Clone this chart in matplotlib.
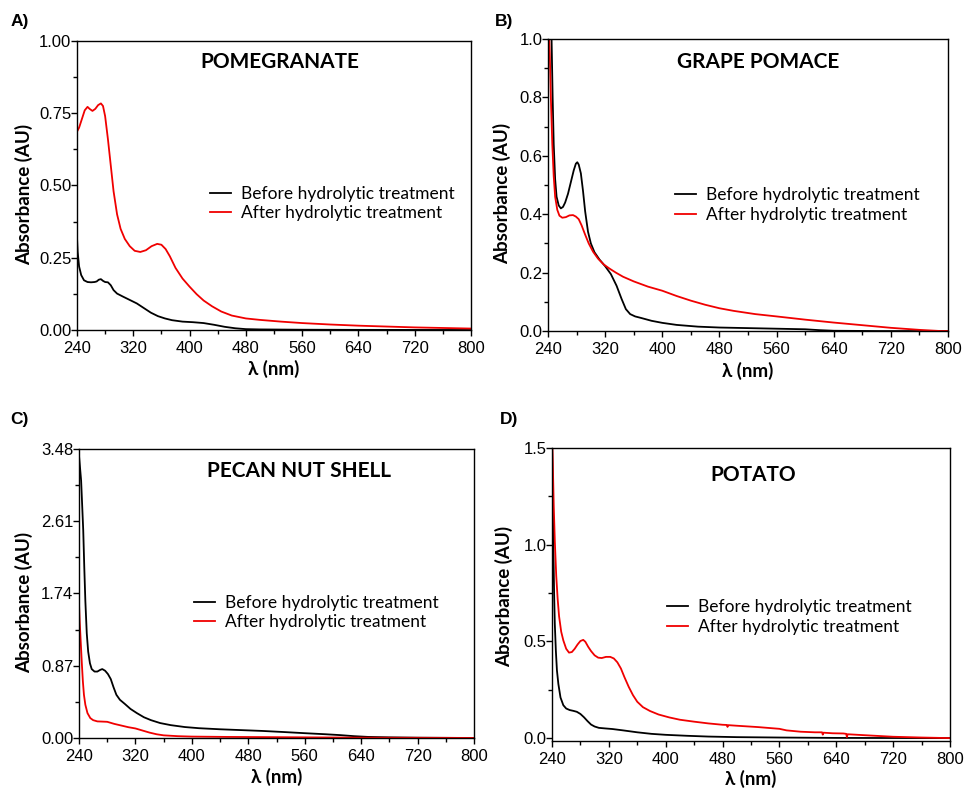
import matplotlib.pyplot as plt
import numpy as np
from matplotlib.ticker import MultipleLocator, FixedLocator, FormatStrFormatter

plt.rcParams['font.family'] = ['Liberation Sans', 'DejaVu Sans']

#####DATA#####
# A) pomegranate
wl_pom_before = [240, 241, 243, 246, 250, 255, 260, 265, 268, 271, 274, 277, 280, 284, 288, 292, 297,
                 305, 315, 325, 335, 345, 355, 365, 375, 390, 405, 420, 435, 450, 465, 480, 500, 560, 640, 800]
abs_pom_before = [0.323, 0.27, 0.22, 0.19, 0.172, 0.166, 0.165, 0.166, 0.168, 0.174, 0.176, 0.170, 0.166, 0.165,
                  0.155, 0.138, 0.126, 0.116, 0.104, 0.092, 0.076, 0.060, 0.048, 0.040, 0.034, 0.029, 0.027,
                  0.024, 0.018, 0.011, 0.006, 0.003, 0.002, 0.001, 0.0005, 0.0]
wl_pom_after = [240, 243, 247, 251, 255, 258, 262, 266, 270, 274, 277, 280, 284, 288, 292, 297, 302, 308, 315,
                322, 330, 338, 346, 354, 360, 366, 372, 380, 390, 400, 410, 420, 432, 445, 460, 480, 500, 530,
                560, 600, 640, 680, 720, 760, 800]
abs_pom_after = [0.686, 0.70, 0.73, 0.76, 0.772, 0.765, 0.758, 0.765, 0.778, 0.784, 0.775, 0.74, 0.66, 0.57,
                 0.48, 0.40, 0.35, 0.315, 0.29, 0.274, 0.270, 0.276, 0.290, 0.298, 0.295, 0.280, 0.255, 0.215,
                 0.178, 0.150, 0.124, 0.102, 0.082, 0.064, 0.050, 0.040, 0.035, 0.029, 0.024, 0.019, 0.015,
                 0.012, 0.009, 0.007, 0.005]

# B) grape pomace
wl_gra_before = [240, 243, 245, 246.5, 248, 250, 252, 255, 258, 261, 264, 268, 272, 276, 279, 281, 283, 286,
                 289, 292, 296, 300, 305, 312, 320, 328, 336, 343, 349, 355, 362, 370, 385, 400, 420, 450, 480,
                 520, 560, 600, 620, 640, 700, 800]
abs_gra_before = [1.30, 1.15, 1.00, 0.80, 0.64, 0.52, 0.46, 0.43, 0.42, 0.425, 0.44, 0.47, 0.51, 0.55, 0.573,
                  0.578, 0.57, 0.54, 0.48, 0.41, 0.34, 0.30, 0.27, 0.245, 0.222, 0.195, 0.155, 0.11, 0.075,
                  0.058, 0.050, 0.045, 0.035, 0.028, 0.021, 0.015, 0.012, 0.010, 0.008, 0.006, 0.003, 0.001,
                  0.0, 0.0]
wl_gra_after = [240, 241, 242.5, 244, 246, 248, 250, 253, 256, 260, 265, 270, 275, 279, 283, 287, 292, 297, 303,
                310, 318, 326, 335, 345, 360, 380, 400, 420, 440, 460, 480, 500, 530, 560, 600, 640, 680, 720,
                760, 790, 800]
abs_gra_after = [0.94, 1.05, 0.95, 0.80, 0.64, 0.53, 0.46, 0.415, 0.395, 0.388, 0.39, 0.396, 0.397, 0.392,
                 0.383, 0.362, 0.33, 0.30, 0.272, 0.248, 0.228, 0.214, 0.200, 0.186, 0.170, 0.152, 0.138,
                 0.120, 0.104, 0.090, 0.078, 0.069, 0.058, 0.050, 0.039, 0.029, 0.020, 0.011, 0.004, 0.0, 0.0]

# C) pecan nut shell
wl_pec_before = [240, 241, 243, 244.5, 246, 247.5, 249, 251, 253, 255.5, 258, 262, 266, 270, 273, 277, 281,
                 285, 289, 293, 298, 305, 313, 322, 332, 342, 355, 370, 390, 410, 440, 470, 500, 530, 560, 590,
                 610, 630, 650, 680, 720, 760, 800]
abs_pec_before = [3.40, 3.30, 3.10, 2.80, 2.50, 2.05, 1.65, 1.26, 1.04, 0.90, 0.83, 0.80, 0.80, 0.82, 0.83,
                  0.81, 0.77, 0.71, 0.61, 0.52, 0.46, 0.41, 0.35, 0.30, 0.25, 0.215, 0.18, 0.155, 0.132, 0.118,
                  0.105, 0.095, 0.085, 0.072, 0.058, 0.045, 0.035, 0.022, 0.013, 0.008, 0.004, 0.002, 0.0]
wl_pec_after = [240, 241, 242.5, 244, 245.5, 247, 249, 252, 256, 260, 266, 272, 280, 290, 300, 310, 320, 330,
                340, 350, 360, 380, 400, 450, 500, 560, 620, 680, 740, 800]
abs_pec_after = [1.62, 1.40, 1.15, 0.90, 0.68, 0.52, 0.40, 0.30, 0.24, 0.215, 0.20, 0.198, 0.195, 0.17, 0.15,
                 0.13, 0.115, 0.09, 0.065, 0.045, 0.032, 0.022, 0.017, 0.013, 0.011, 0.008, 0.005, 0.003,
                 0.002, 0.001]

# D) potato
wl_pot_before = [240, 241, 242, 243, 244, 245.5, 247, 249, 252, 256, 260, 265, 270, 275, 280, 285, 290, 295,
                 300, 306, 315, 325, 340, 360, 380, 400, 430, 460, 500, 560, 640, 800]
abs_pot_before = [1.60, 1.25, 0.98, 0.75, 0.59, 0.45, 0.35, 0.28, 0.21, 0.17, 0.153, 0.145, 0.141, 0.136,
                  0.125, 0.108, 0.088, 0.070, 0.060, 0.053, 0.050, 0.047, 0.040, 0.030, 0.022, 0.017, 0.012,
                  0.008, 0.005, 0.003, 0.001, 0.0]
wl_pot_after = [240, 241, 242.5, 244, 246, 248, 250, 253, 256, 260, 264, 268, 272, 276, 280, 284, 287, 291,
                295, 300, 305, 310, 316, 322, 327, 332, 337, 342, 348, 354, 360, 368, 378, 390, 405, 420, 440,
                460, 480, 486, 487, 488, 500, 530, 560, 570, 590, 610, 620, 621, 622, 635, 650, 654, 655, 656,
                680, 720, 760, 800]
abs_pot_after = [1.60, 1.45, 1.20, 1.02, 0.84, 0.72, 0.63, 0.55, 0.505, 0.462, 0.442, 0.445, 0.462, 0.484,
                 0.502, 0.508, 0.498, 0.472, 0.450, 0.428, 0.416, 0.414, 0.420, 0.420, 0.412, 0.392, 0.360,
                 0.315, 0.265, 0.222, 0.188, 0.160, 0.140, 0.122, 0.107, 0.095, 0.085, 0.076, 0.069, 0.068,
                 0.058, 0.067, 0.064, 0.057, 0.048, 0.040, 0.033, 0.030, 0.030, 0.018, 0.028, 0.025, 0.024,
                 0.022, 0.005, 0.020, 0.015, 0.007, 0.003, 0.0]

x_ticks = [240, 320, 400, 480, 560, 640, 720, 800]
label_font = ['Lato', 'DejaVu Sans']


def draw_panel(rect, letter, letter_xy, name, name_xy, wl_b, ab_b, wl_a, ab_a,
               ylim, yticks, yfmt, yminor, leg_xy, ylab_xy, xlab_y):
    ax = fig.add_axes(rect)
    ax.plot(wl_b, ab_b, color='black', lw=1.3, label='Before hydrolytic treatment')
    ax.plot(wl_a, ab_a, color='#f00000', lw=1.3, label='After hydrolytic treatment')
    ax.set_xlim(240, 800)
    ax.set_ylim(*ylim)
    ax.xaxis.set_major_locator(FixedLocator(x_ticks))
    ax.xaxis.set_minor_locator(MultipleLocator(40))
    ax.yaxis.set_major_locator(FixedLocator(yticks))
    ax.yaxis.set_minor_locator(FixedLocator(yminor))
    ax.yaxis.set_major_formatter(FormatStrFormatter(yfmt))
    ax.tick_params(which='both', direction='out', labelsize=12, colors='black')
    ax.tick_params(which='major', length=4, width=1)
    ax.tick_params(which='minor', length=3, width=1)
    ax.tick_params(axis='y', pad=0)
    ax.tick_params(axis='x', pad=4)
    for s in ax.spines.values():
        s.set_linewidth(1.0)
    ax.set_ylabel('Absorbance (AU)', family=label_font, fontweight='bold', fontsize=13.5)
    ax.yaxis.set_label_coords(*ylab_xy)
    ax.set_xlabel('λ (nm)', family=label_font, fontweight='bold', fontsize=13.5)
    ax.xaxis.set_label_coords(0.5, xlab_y)
    ax.text(name_xy[0], name_xy[1], name, transform=ax.transAxes, ha='center', va='center',
            family=label_font, fontweight='bold', fontsize=15)
    ax.legend(loc='center left', bbox_to_anchor=leg_xy, frameon=False, borderpad=0, borderaxespad=0,
              handlelength=1.2, handletextpad=0.6, labelspacing=0.2,
              prop={'family': label_font, 'size': 12.5})
    fig.text(letter_xy[0], letter_xy[1], letter, fontweight='bold', fontsize=12.5,
             ha='left', va='center')
    return ax


fig = plt.figure(figsize=(9.67, 7.91), dpi=100)

draw_panel([0.0796, 0.5828, 0.4075, 0.3654], 'A)', (0.011, 0.973), 'POMEGRANATE', (0.515, 0.927),
           wl_pom_before, abs_pom_before, wl_pom_after, abs_pom_after,
           (0, 1.0), [0, 0.25, 0.5, 0.75, 1.0], '%.2f', [0.125, 0.375, 0.625, 0.875],
           (0.338, 0.438), (-0.112, 0.47), -0.105)

draw_panel([0.5667, 0.5815, 0.4137, 0.3692], 'B)', (0.512, 0.973), 'GRAPE POMACE', (0.525, 0.921),
           wl_gra_before, abs_gra_before, wl_gra_after, abs_gra_after,
           (0, 1.0), [0, 0.2, 0.4, 0.6, 0.8, 1.0], '%.1f', [0.1, 0.3, 0.5, 0.7, 0.9],
           (0.318, 0.432), (-0.093, 0.47), -0.105)

draw_panel([0.0817, 0.0670, 0.4085, 0.3654], 'C)', (0.011, 0.470), 'PECAN NUT SHELL', (0.557, 0.924),
           wl_pec_before, abs_pec_before, wl_pec_after, abs_pec_after,
           (0, 3.48), [0, 0.87, 1.74, 2.61, 3.48], '%.2f', [0.435, 1.305, 2.175, 3.045],
           (0.291, 0.434), (-0.117, 0.47), -0.105)

draw_panel([0.5708, 0.0632, 0.4116, 0.3704], 'D)', (0.517, 0.470), 'POTATO', (0.505, 0.908),
           wl_pot_before, abs_pot_before, wl_pot_after, abs_pot_after,
           (-0.015, 1.5), [0, 0.5, 1.0, 1.5], '%.1f', [0.25, 0.75, 1.25],
           (0.289, 0.423), (-0.098, 0.495), -0.10)

plt.savefig('out.png', dpi=100)
